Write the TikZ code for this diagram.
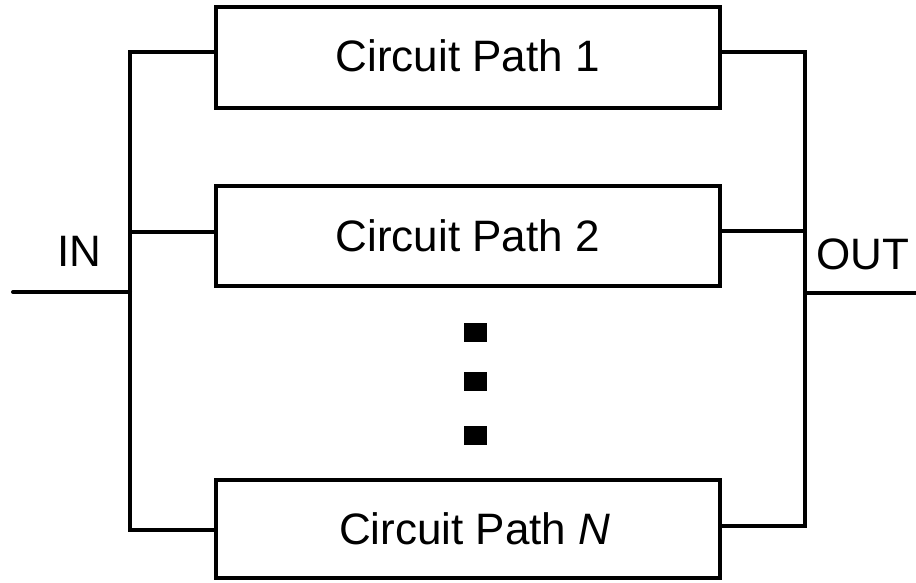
\documentclass[tikz,border=0pt]{standalone}
\usepackage{fontspec}
\setmainfont{Liberation Sans}
\begin{document}
\begin{tikzpicture}[x=1pt,y=-1pt,
  wire/.style={line width=4pt,line join=miter},
  pathbox/.style={draw,line width=4pt,minimum width=504.5pt,inner sep=0pt,font=\fontsize{44}{48}\selectfont},
  lbl/.style={inner sep=0pt,font=\fontsize{44}{48}\selectfont},
  dotsq/.style={fill=black,inner sep=0pt,minimum width=23pt,minimum height=19pt}]
\useasboundingbox (0,0) rectangle (916,582);
\node[pathbox,minimum height=101pt] (b1) at (467.75,57.5) {\raisebox{4pt}{Circuit Path 1}};
\node[pathbox,minimum height=100pt] (b2) at (467.75,236) {Circuit Path 2};
\node[pathbox,minimum height=98pt] (bn) at (467.75,529) {\hspace*{14pt}\raisebox{-6pt}{Circuit Path \textit{N}}};
\node[dotsq] (d1) at (475.5,332.5) {};
\node[dotsq] (d2) at (475.5,381) {};
\node[dotsq] (d3) at (475.5,435.5) {};
\node[lbl] (in) at (79.5,251) {IN};
\node[lbl] (out) at (862.5,254) {OUT};
\coordinate (l1) at (130,52);
\coordinate (l2) at (130,232);
\coordinate (ln) at (130,530);
\coordinate (li) at (130,292);
\coordinate (src) at (13,292);
\coordinate (r1) at (805,52);
\coordinate (r2) at (805,231);
\coordinate (rn) at (805,526);
\coordinate (ro) at (805,293);
\coordinate (snk) at (916,293);
\draw[wire] (l1 -| b1.west) -- (l1) -- (ln) -- (ln -| bn.west);
\draw[wire] (l2) -- (l2 -| b2.west);
\draw[wire,line cap=round] (src) -- (li);
\draw[wire] (r1 -| b1.east) -- (r1) -- (rn) -- (rn -| bn.east);
\draw[wire] (r2 -| b2.east) -- (r2);
\draw[wire] (ro) -- (snk);
\end{tikzpicture}
\end{document}
